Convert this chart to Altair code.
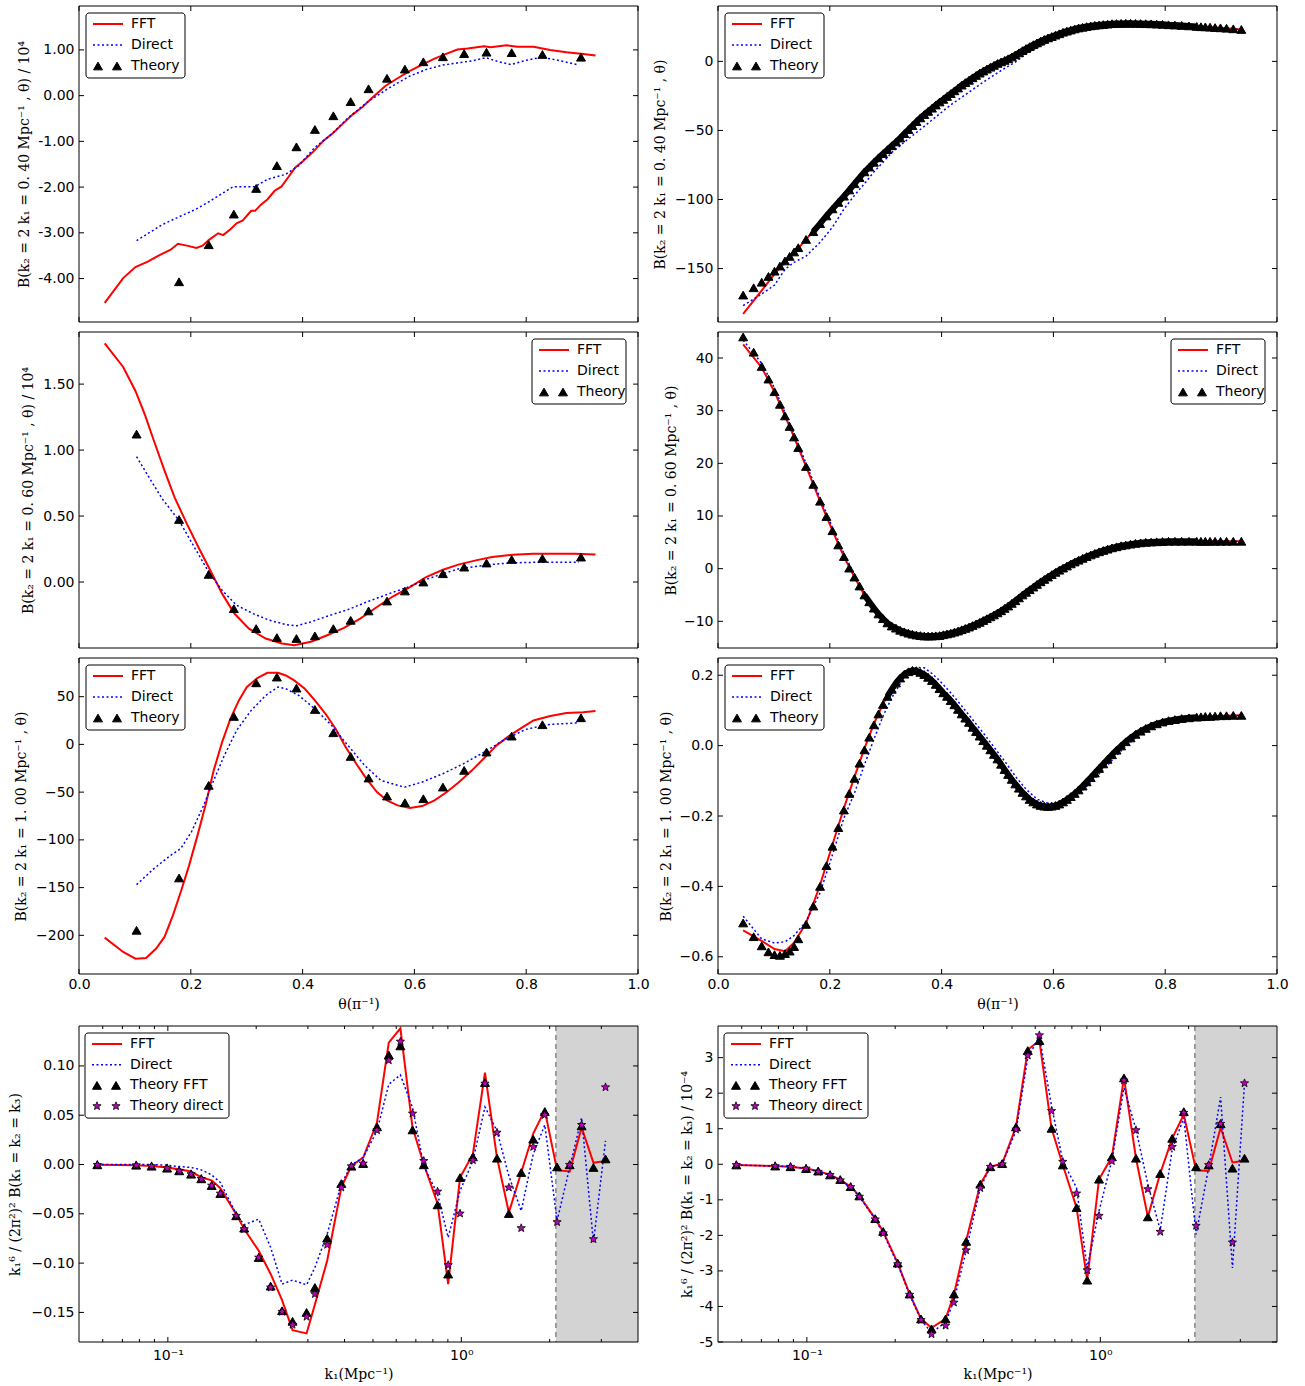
import math
import altair as alt
import pandas as pd

# ---------------- values ----------------
THETA_TICKS = [0.0, 0.2, 0.4, 0.6, 0.8, 1.0]
THEORY_X = [0.103, 0.179, 0.232, 0.277, 0.317, 0.354, 0.389, 0.422, 0.455, 0.486,
            0.518, 0.551, 0.583, 0.616, 0.651, 0.689, 0.729, 0.774, 0.829, 0.898]

P1_FFT_X = [0.046, 0.079, 0.101, 0.123, 0.145, 0.164, 0.177, 0.193, 0.210, 0.221,
            0.232, 0.249, 0.258, 0.271, 0.282, 0.293, 0.308, 0.315, 0.325, 0.337,
            0.350, 0.362, 0.374, 0.387, 0.401, 0.418, 0.437, 0.455, 0.474, 0.490,
            0.507, 0.525, 0.548, 0.570, 0.592, 0.614, 0.636, 0.658, 0.677, 0.695,
            0.725, 0.736, 0.765, 0.784, 0.813, 0.843, 0.872, 0.902, 0.924]
P1_FFT_Y = [-4.53, -3.99, -3.75, -3.63, -3.48, -3.37, -3.24, -3.28, -3.33, -3.28,
            -3.16, -3.01, -3.05, -2.92, -2.79, -2.73, -2.52, -2.52, -2.39, -2.27,
            -2.08, -1.99, -1.79, -1.57, -1.43, -1.24, -0.99, -0.81, -0.59, -0.41,
            -0.25, -0.04, 0.21, 0.38, 0.54, 0.68, 0.81, 0.92, 1.01, 1.03,
            1.08, 1.06, 1.10, 1.07, 1.07, 1.00, 0.95, 0.91, 0.88]
P1_DIR_X = [0.103, 0.149, 0.179, 0.208, 0.230, 0.256, 0.276, 0.315, 0.337, 0.370,
            0.393, 0.422, 0.452, 0.481, 0.518, 0.555, 0.592, 0.621, 0.651, 0.680,
            0.703, 0.728, 0.751, 0.773, 0.799, 0.828, 0.858, 0.891]
P1_DIR_Y = [-3.17, -2.82, -2.65, -2.49, -2.34, -2.14, -1.99, -1.99, -1.83, -1.72,
            -1.53, -1.13, -0.84, -0.49, -0.12, 0.17, 0.43, 0.57, 0.67, 0.72,
            0.76, 0.83, 0.74, 0.68, 0.77, 0.84, 0.77, 0.68]
P1_TH_X = THEORY_X[1:]
P1_TH_Y = [-4.07, -3.26, -2.59, -2.03, -1.53, -1.12, -0.74, -0.44, -0.13, 0.15,
           0.38, 0.58, 0.74, 0.85, 0.92, 0.95, 0.94, 0.90, 0.84]

P3_FFT_X = [0.046, 0.079, 0.101, 0.118, 0.134, 0.153, 0.171, 0.193, 0.215, 0.238,
            0.256, 0.278, 0.304, 0.334, 0.363, 0.385, 0.415, 0.444, 0.474, 0.503,
            0.533, 0.562, 0.592, 0.621, 0.651, 0.680, 0.710, 0.739, 0.776, 0.813,
            0.850, 0.887, 0.924]
P3_FFT_Y = [1.809, 1.630, 1.448, 1.267, 1.071, 0.844, 0.642, 0.441, 0.252, 0.063,
            -0.088, -0.239, -0.353, -0.428, -0.466, -0.479, -0.453, -0.403, -0.348, -0.277,
            -0.189, -0.108, -0.038, 0.038, 0.093, 0.134, 0.164, 0.189, 0.207, 0.214,
            0.214, 0.214, 0.209]
P3_DIR_X = [0.103, 0.127, 0.149, 0.179, 0.208, 0.232, 0.256, 0.282, 0.311, 0.341,
            0.370, 0.389, 0.415, 0.444, 0.481, 0.518, 0.555, 0.592, 0.621, 0.651,
            0.680, 0.710, 0.739, 0.776, 0.813, 0.850, 0.894]
P3_DIR_Y = [0.950, 0.781, 0.630, 0.466, 0.252, 0.076, -0.063, -0.176, -0.239, -0.290,
            -0.322, -0.332, -0.302, -0.259, -0.209, -0.146, -0.088, -0.033, 0.020, 0.063,
            0.101, 0.118, 0.134, 0.146, 0.149, 0.149, 0.149]
P3_TH_Y = [1.121, 0.474, 0.058, -0.202, -0.353, -0.421, -0.428, -0.408, -0.353, -0.290,
           -0.219, -0.144, -0.068, 0.000, 0.063, 0.113, 0.144, 0.171, 0.179, 0.189]

P5_FFT_X = [0.046, 0.079, 0.101, 0.120, 0.138, 0.153, 0.168, 0.182, 0.197, 0.212,
            0.227, 0.241, 0.256, 0.271, 0.286, 0.300, 0.319, 0.337, 0.356, 0.370,
            0.385, 0.404, 0.422, 0.441, 0.459, 0.477, 0.496, 0.514, 0.533, 0.551,
            0.570, 0.592, 0.614, 0.636, 0.658, 0.680, 0.703, 0.725, 0.747, 0.769,
            0.791, 0.813, 0.843, 0.872, 0.902, 0.924]
P5_FFT_Y = [-202.4, -217.4, -224.4, -223.7, -213.9, -201.7, -179.0, -154.6, -126.7, -95.3,
            -62.1, -27.2, 2.4, 26.9, 46.1, 60.0, 69.4, 75.0, 75.0, 72.2,
            67.0, 58.3, 46.1, 32.1, 16.4, -2.8, -20.2, -35.9, -49.9, -58.6,
            -63.9, -66.6, -64.6, -58.6, -49.9, -39.4, -27.2, -14.3, -1.0, 8.7,
            17.1, 25.1, 29.7, 32.8, 33.8, 34.9]
P5_DIR_X = [0.103, 0.134, 0.164, 0.182, 0.201, 0.223, 0.241, 0.260, 0.282, 0.308,
            0.334, 0.356, 0.370, 0.393, 0.422, 0.452, 0.481, 0.511, 0.540, 0.570,
            0.583, 0.614, 0.651, 0.688, 0.725, 0.762, 0.799, 0.836, 0.894]
P5_DIR_Y = [-146.9, -130.1, -116.2, -109.2, -91.8, -63.9, -37.7, -11.5, 14.7, 35.6,
            51.3, 60.0, 58.3, 51.3, 37.3, 19.9, -1.0, -22.0, -37.7, -42.9,
            -44.7, -39.4, -30.7, -20.2, -8.0, 5.2, 15.7, 20.6, 22.7]
P5_TH_Y = [-194.7, -139.9, -42.9, 29.3, 64.5, 70.5, 59.0, 36.6, 12.2, -12.6,
           -35.2, -54.1, -61.1, -56.9, -44.7, -27.2, -8.0, 8.7, 20.6, 27.9]

DENSE_X = [0.0450, 0.0638, 0.0782, 0.0903, 0.1011, 0.1108, 0.1198, 0.1282, 0.1361, 0.1436,
           0.1575, 0.1705, 0.1826, 0.1940, 0.2048, 0.2152, 0.2252, 0.2348, 0.2441, 0.2532,
           0.2620, 0.2706, 0.2789, 0.2871, 0.2952, 0.3031, 0.3108, 0.3184, 0.3259, 0.3333,
           0.3406, 0.3478, 0.3550, 0.3620, 0.3690, 0.3759, 0.3828, 0.3896, 0.3963, 0.4030,
           0.4097, 0.4163, 0.4229, 0.4294, 0.4359, 0.4424, 0.4489, 0.4553, 0.4617, 0.4681,
           0.4745, 0.4809, 0.4873, 0.4936, 0.5000, 0.5064, 0.5127, 0.5191, 0.5255, 0.5319,
           0.5383, 0.5447, 0.5511, 0.5576, 0.5641, 0.5706, 0.5771, 0.5837, 0.5903, 0.5970,
           0.6037, 0.6104, 0.6172, 0.6241, 0.6310, 0.6380, 0.6450, 0.6522, 0.6594, 0.6667,
           0.6741, 0.6816, 0.6892, 0.6969, 0.7048, 0.7129, 0.7211, 0.7294, 0.7380, 0.7468,
           0.7559, 0.7652, 0.7748, 0.7848, 0.7952, 0.8060, 0.8174, 0.8295, 0.8425, 0.8564,
           0.8639, 0.8718, 0.8802, 0.8892, 0.8989, 0.9097, 0.9218, 0.9362]
P2_TH_Y = [-169.2, -163.9, -159.9, -155.7, -151.9, -148.2, -144.5, -141.2, -138.0, -134.9,
           -128.9, -123.3, -117.5, -111.9, -106.8, -102.1, -97.6, -93.1, -88.6, -84.2,
           -80.0, -76.5, -73.1, -69.8, -66.8, -63.9, -61.1, -58.3, -55.5, -52.3,
           -49.4, -46.5, -43.6, -40.9, -38.5, -36.2, -33.9, -31.6, -29.4, -27.5,
           -25.4, -23.3, -21.3, -19.3, -17.2, -15.4, -13.7, -11.9, -10.2, -8.5,
           -7.0, -5.6, -4.2, -2.9, -1.5, -0.4, 0.7, 1.9, 3.2, 4.7,
           6.2, 7.8, 9.3, 10.7, 12.1, 13.4, 14.7, 15.9, 17.0, 18.0,
           19.0, 20.0, 21.1, 21.9, 22.7, 23.5, 24.2, 24.7, 25.2, 25.7,
           26.1, 26.4, 26.7, 27.0, 27.3, 27.4, 27.5, 27.6, 27.6, 27.5,
           27.4, 27.3, 27.2, 27.0, 26.8, 26.5, 26.3, 26.0, 25.7, 25.3,
           25.1, 25.0, 24.8, 24.5, 24.3, 24.0, 23.6, 23.1]
P4_TH_Y = [44.0, 41.1, 38.4, 36.0, 33.6, 31.2, 29.0, 27.0, 25.0, 23.0,
           19.4, 16.0, 12.8, 9.9, 7.2, 4.5, 2.3, 0.1, -1.6, -3.3,
           -5.0, -6.3, -7.5, -8.6, -9.5, -10.3, -10.9, -11.3, -11.7, -12.0,
           -12.25, -12.45, -12.6, -12.7, -12.8, -12.8, -12.8, -12.75, -12.7, -12.55,
           -12.4, -12.25, -12.05, -11.85, -11.6, -11.35, -11.1, -10.8, -10.5, -10.2,
           -9.85, -9.5, -9.15, -8.8, -8.4, -8.0, -7.55, -7.1, -6.6, -6.1,
           -5.55, -5.0, -4.5, -4.0, -3.5, -3.0, -2.5, -2.05, -1.6, -1.15,
           -0.7, -0.3, 0.1, 0.5, 0.9, 1.25, 1.6, 1.95, 2.3, 2.6,
           2.9, 3.2, 3.45, 3.7, 3.95, 4.15, 4.35, 4.5, 4.65, 4.8,
           4.9, 5.0, 5.05, 5.1, 5.15, 5.2, 5.2, 5.2, 5.2, 5.2,
           5.2, 5.2, 5.2, 5.2, 5.2, 5.2, 5.2, 5.2]
P6_TH_Y = [-0.504, -0.543, -0.569, -0.586, -0.594, -0.596, -0.591, -0.584, -0.571, -0.549,
           -0.508, -0.456, -0.400, -0.341, -0.286, -0.233, -0.183, -0.136, -0.093, -0.050,
           -0.012, 0.024, 0.059, 0.090, 0.117, 0.140, 0.160, 0.178, 0.192, 0.203,
           0.210, 0.214, 0.213, 0.208, 0.202, 0.194, 0.185, 0.174, 0.162, 0.150,
           0.140, 0.128, 0.116, 0.103, 0.090, 0.078, 0.066, 0.052, 0.040, 0.027,
           0.014, 0.001, -0.012, -0.025, -0.038, -0.053, -0.068, -0.082, -0.096, -0.109,
           -0.121, -0.133, -0.143, -0.153, -0.160, -0.166, -0.170, -0.172, -0.173, -0.172,
           -0.170, -0.166, -0.160, -0.153, -0.145, -0.136, -0.126, -0.115, -0.103, -0.091,
           -0.078, -0.065, -0.052, -0.039, -0.026, -0.013, -0.001, 0.011, 0.022, 0.032,
           0.041, 0.049, 0.056, 0.062, 0.067, 0.071, 0.074, 0.077, 0.079, 0.081,
           0.082, 0.083, 0.083, 0.084, 0.085, 0.085, 0.086, 0.086]
# theta range where the dense theory markers merge into one solid band
P2_BAND = [0.16, 0.86]
P4_BAND = [0.26, 0.86]
P6_BAND = [0.30, 0.86]

LINE_X = [0.045, 0.078, 0.101, 0.120, 0.136, 0.1575, 0.1826, 0.2048, 0.2252, 0.2441,
          0.2620, 0.2789, 0.2952, 0.3108, 0.3259, 0.3406, 0.3550, 0.3690, 0.3828, 0.3963,
          0.4163, 0.4359, 0.4553, 0.4745, 0.4936, 0.5127, 0.5319, 0.5511, 0.5706, 0.5903,
          0.6104, 0.6310, 0.6522, 0.6741, 0.6969, 0.7211, 0.7468, 0.7748, 0.8060, 0.8425,
          0.8892, 0.9362]
P2_FFT_Y = [-182.8, -166.0, -154.0, -145.5, -139.0, -128.9, -117.4, -106.8, -97.6, -88.6,
            -80.0, -73.1, -66.8, -61.1, -55.5, -49.4, -43.6, -38.5, -33.9, -29.4,
            -23.3, -17.1, -11.9, -7.0, -2.9, 0.7, 4.7, 9.3, 13.4, 17.0,
            20.0, 22.7, 24.7, 26.1, 27.0, 27.5, 27.5, 27.2, 26.5, 25.7,
            24.5, 23.1]
P2_DIR_Y = [-176.8, -168.5, -162.0, -150.5, -145.5, -141.0, -131.0, -120.0, -107.0, -97.0,
            -88.5, -80.0, -73.0, -66.0, -61.0, -56.0, -51.5, -47.0, -42.5, -38.0,
            -31.5, -26.0, -20.5, -15.0, -10.0, -5.0, -0.5, 5.5, 10.0, 14.0,
            17.5, 20.5, 22.8, 24.7, 26.0, 27.0, 27.4, 27.1, 26.4, 25.4,
            24.2, 23.0]
P4_FFT_Y = [42.6, 38.2, 33.6, 29.0, 25.0, 19.4, 12.8, 7.2, 2.3, -1.6,
            -5.0, -7.5, -9.5, -10.9, -11.7, -12.25, -12.6, -12.8, -12.8, -12.7,
            -12.25, -11.6, -10.8, -9.85, -8.8, -7.55, -6.1, -4.5, -3.0, -1.6,
            -0.3, 0.9, 1.95, 2.9, 3.7, 4.35, 4.8, 5.05, 5.2, 5.2,
            5.2, 5.2]
P4_DIR_Y = [43.4, 39.0, 34.3, 29.6, 25.6, 20.0, 13.4, 7.8, 2.9, -1.1,
            -4.6, -7.2, -9.3, -10.7, -11.6, -12.2, -12.6, -12.8, -12.85, -12.75,
            -12.3, -11.7, -10.9, -9.9, -8.8, -7.5, -6.0, -4.4, -2.9, -1.5,
            -0.2, 1.0, 2.0, 2.95, 3.75, 4.4, 4.85, 5.1, 5.2, 5.2,
            5.2, 5.2]
P6_FFT_Y = [-0.525, -0.555, -0.578, -0.584, -0.560, -0.505, -0.396, -0.281, -0.178, -0.089,
            -0.008, 0.062, 0.119, 0.161, 0.192, 0.210, 0.213, 0.202, 0.185, 0.162,
            0.128, 0.090, 0.052, 0.014, -0.025, -0.068, -0.109, -0.143, -0.166, -0.173,
            -0.166, -0.145, -0.115, -0.078, -0.039, -0.001, 0.032, 0.056, 0.071, 0.079,
            0.084, 0.086]
P6_DIR_Y = [-0.485, -0.549, -0.561, -0.557, -0.540, -0.500, -0.418, -0.310, -0.206, -0.135,
            -0.054, 0.018, 0.084, 0.136, 0.176, 0.206, 0.222, 0.221, 0.205, 0.185,
            0.150, 0.113, 0.074, 0.036, -0.004, -0.044, -0.087, -0.124, -0.152, -0.164,
            -0.165, -0.152, -0.127, -0.093, -0.055, -0.015, 0.022, 0.050, 0.068, 0.078,
            0.083, 0.086]

K1 = [0.0575, 0.078, 0.088, 0.0994, 0.1093, 0.120, 0.130, 0.141, 0.151, 0.171,
      0.182, 0.204, 0.224, 0.245, 0.266, 0.297, 0.317, 0.349, 0.390, 0.422,
      0.463, 0.516, 0.566, 0.620, 0.682, 0.745, 0.830, 0.902, 0.990, 1.095,
      1.204, 1.323, 1.452, 1.600, 1.758, 1.925, 2.12, 2.34, 2.57, 2.82,
      3.10]
P7_FFT_Y = [-0.0003, -0.0007, -0.0014, -0.003, -0.0047, -0.0071, -0.013, -0.016, -0.024, -0.0503,
            -0.0655, -0.0875, -0.111, -0.1375, -0.168, -0.1713, -0.142, -0.0976, -0.0233, -0.0014,
            0.0071, 0.0426, 0.1236, 0.1382, 0.0375, 0.0003, -0.0395, -0.1213, -0.0132, 0.0105,
            0.0932, 0.0071, -0.0486, -0.0081, 0.0314, 0.0551, -0.0057, -0.0071, 0.0375, 0.0017,
            0.0037]
P7_DIR_Y = [0.0, 0.0, 0.0, -0.0007, -0.002, -0.003, -0.0054, -0.0105, -0.0182, -0.0503,
            -0.0611, -0.0554, -0.0841, -0.1213, -0.1172, -0.122, -0.1044, -0.0706, -0.0199, -0.0003,
            0.0071, 0.0341, 0.0814, 0.0909, 0.0578, -0.0014, -0.0301, -0.074, -0.0267, 0.0037,
            0.0584, 0.0341, -0.0115, -0.047, 0.0105, 0.0402, -0.0571, -0.003, 0.0476, -0.0791,
            0.024]
P7_TFFT_Y = [-0.0003, -0.0007, -0.0017, -0.0037, -0.0064, -0.0098, -0.0145, -0.0213, -0.0294, -0.052,
             -0.0645, -0.0943, -0.1233, -0.1483, -0.159, -0.150, -0.1247, -0.0747, -0.0193, -0.0017,
             0.001, 0.0382, 0.1111, 0.1203, 0.0351, -0.0003, -0.0409, -0.1111, -0.0132, 0.0078,
             0.0831, 0.0064, -0.0497, -0.0081, 0.0257, 0.0537, -0.0024, -0.0003, 0.0392, -0.003,
             0.0057]
P7_TDIR_Y = [-0.0003, -0.0007, -0.0017, -0.0037, -0.0064, -0.0098, -0.0145, -0.0213, -0.0294, -0.052,
             -0.0655, -0.0943, -0.1247, -0.1493, -0.1625, -0.1544, -0.1314, -0.0814, -0.0233, -0.0017,
             0.001, 0.0348, 0.1057, 0.1247, 0.0517, 0.0037, -0.0274, -0.102, -0.0497, 0.0044,
             0.0821, 0.0324, -0.0233, -0.0645, 0.0179, 0.0503, -0.0584, -0.0003, 0.0402, -0.0757,
             0.0784]
P8_FFT_Y = [-0.02, -0.05, -0.07, -0.12, -0.19, -0.30, -0.43, -0.63, -0.89, -1.53,
            -1.89, -2.78, -3.65, -4.35, -4.60, -4.35, -3.67, -2.15, -0.56, -0.07,
            0.02, 1.05, 3.22, 3.48, 1.01, -0.02, -1.22, -3.26, -0.42, 0.21,
            2.43, 0.17, -1.48, -0.26, 0.73, 1.40, -0.17, -0.19, 1.03, 0.05,
            0.10]
P8_DIR_Y = [-0.02, -0.05, -0.07, -0.12, -0.21, -0.30, -0.45, -0.64, -0.91, -1.55,
            -1.94, -2.81, -3.67, -4.38, -4.73, -4.45, -3.84, -2.43, -0.66, -0.07,
            0.0, 0.94, 3.0, 3.6, 1.64, 0.09, -0.66, -2.92, -1.31, 0.11,
            2.15, 0.98, -0.56, -1.85, 0.42, 1.31, -1.97, -0.09, 1.89, -2.92,
            2.29]
P8_TFFT_Y = [-0.02, -0.05, -0.07, -0.12, -0.19, -0.30, -0.43, -0.63, -0.89, -1.53,
             -1.89, -2.78, -3.65, -4.35, -4.63, -4.35, -3.65, -2.17, -0.56, -0.07,
             0.02, 1.05, 3.20, 3.48, 1.01, -0.02, -1.22, -3.26, -0.42, 0.21,
             2.43, 0.17, -1.48, -0.26, 0.73, 1.48, -0.07, -0.02, 1.14, -0.11,
             0.17]
P8_TDIR_Y = [-0.02, -0.05, -0.07, -0.12, -0.21, -0.30, -0.45, -0.64, -0.91, -1.55,
             -1.94, -2.81, -3.67, -4.38, -4.78, -4.54, -3.89, -2.42, -0.67, -0.07,
             0.0, 0.98, 3.06, 3.63, 1.50, 0.07, -0.82, -2.98, -1.45, 0.09,
             2.36, 0.96, -0.70, -1.90, 0.49, 1.45, -1.73, -0.02, 1.14, -2.20,
             2.28]
K_DOMAIN = [0.0498, 4.0]
K_SHADE = [2.1, 4.0]
K_MAJOR = [0.1, 1.0]
K_MINOR = [0.06, 0.07, 0.08, 0.09, 0.2, 0.3, 0.4, 0.5, 0.6, 0.7, 0.8, 0.9, 2.0, 3.0]

TOP_ENTRIES = [("FFT", "fft"), ("Direct", "direct"), ("Theory", "tri")]
BOT_ENTRIES = [("FFT", "fft"), ("Direct", "direct"), ("Theory FFT", "tri"), ("Theory direct", "star")]

# ---------------- styling ----------------
W, H = 559, 316
SANS = "DejaVu Sans"
SERIF = "DejaVu Serif"
RED = "#ff0000"
BLUE = "#0000ff"
MAGENTA = "#bf00bf"
SHADE = "#d3d3d3"
DIRECT_DASH = [2, 2.5]
TRI_SIZE = 80
STAR_SIZE = 75
BAND_WIDTH = 6
TITLE_SIZE = 14
ONE = pd.DataFrame({"o": [0]})


def star_shape():
    pts = []
    for i in range(10):
        a = math.radians(-90 + 36 * i)
        rad = 1.0 if i % 2 == 0 else 0.42
        pts.append(f"{rad * math.cos(a):.4f},{rad * math.sin(a):.4f}")
    return "M" + "L".join(pts) + "Z"


STAR = star_shape()


def y_axis(title, values, tx, fmt, expr=None):
    kw = dict(title=title, values=values, format=fmt, titleX=tx, titleY=H / 2,
              titleAngle=-90, titleBaseline="middle", titleAlign="center",
              titleFont=SERIF, titleFontSize=TITLE_SIZE, titleFontWeight="normal",
              titleColor="black",
              labelFont=SANS, labelFontSize=14, labelColor="black", labelPadding=5,
              ticks=False, tickSize=0, domain=False, grid=False, labelOverlap=False)
    if expr:
        kw["labelExpr"] = expr
    return alt.Axis(**kw)


def x_axis(title, values, fmt=None, expr=None, pad=3, ty=30):
    kw = dict(title=title, values=values, titleY=ty, titleBaseline="middle",
              titleFont=SERIF, titleFontSize=TITLE_SIZE, titleFontWeight="normal",
              titleColor="black",
              labelFont=SANS, labelFontSize=14, labelColor="black", labelPadding=pad,
              labelFlush=False, ticks=False, tickSize=0, domain=False, grid=False,
              labelOverlap=False)
    if fmt:
        kw["format"] = fmt
    if expr:
        kw["labelExpr"] = expr
    return alt.Axis(**kw)


def marker_mark(kind):
    if kind == "tri":
        return dict(shape="triangle-up", size=TRI_SIZE, filled=True, fill="black",
                    stroke="black", strokeWidth=1, opacity=1)
    return dict(shape=STAR, size=STAR_SIZE, filled=True, fill=MAGENTA,
                stroke="black", strokeWidth=0.8, opacity=1)


def legend_layers(entries, bx, by, bw, rowh):
    base = alt.Chart(ONE)
    bh = 11 + rowh * (len(entries) - 1) + 12
    L = [base.mark_rect(fill="white", stroke="black", strokeWidth=1, cornerRadius=3).encode(
        x=alt.value(bx), x2=alt.value(bx + bw), y=alt.value(by), y2=alt.value(by + bh))]
    for i, (label, kind) in enumerate(entries):
        yc = by + 11 + rowh * i
        x0 = bx + 7
        if kind == "fft":
            L.append(base.mark_rule(color=RED, strokeWidth=2).encode(
                x=alt.value(x0), x2=alt.value(x0 + 30), y=alt.value(yc)))
        elif kind == "direct":
            L.append(base.mark_rule(color=BLUE, strokeWidth=1.5, strokeDash=DIRECT_DASH).encode(
                x=alt.value(x0), x2=alt.value(x0 + 30), y=alt.value(yc)))
        else:
            for cx in (x0 + 5, x0 + 24):
                L.append(base.mark_point(**marker_mark(kind)).encode(
                    x=alt.value(cx), y=alt.value(yc)))
        L.append(base.mark_text(align="left", baseline="middle", font=SANS, fontSize=14,
                                color="black").encode(
            x=alt.value(bx + 45), y=alt.value(yc), text=alt.value(label)))
    return L


def panel(xs, ys, xa, ya, lines, markers, xticks, yticks, legend, xminor=None, shade=None,
          band=None):
    L = []
    if shade is not None:
        sd = pd.DataFrame({"k0": [shade[0]], "k1": [shade[1]]})
        L.append(alt.Chart(sd).mark_rect(color=SHADE).encode(
            x=alt.X("k0:Q", scale=xs, axis=xa), x2=alt.X2("k1"), y=alt.value(0), y2=alt.value(H)))
        L.append(alt.Chart(sd).mark_rule(color="#555555", strokeDash=[5, 4], strokeWidth=1).encode(
            x=alt.X("k0:Q", scale=xs, axis=xa), y=alt.value(0), y2=alt.value(H)))
    for xv, yv, color, width, dash in lines:
        kw = dict(color=color, strokeWidth=width, clip=True)
        if dash:
            kw["strokeDash"] = dash
        L.append(alt.Chart(pd.DataFrame({"x": xv, "y": yv})).mark_line(**kw).encode(
            x=alt.X("x:Q", scale=xs, axis=xa), y=alt.Y("y:Q", scale=ys, axis=ya)))
    for xv, yv, kind in markers:
        df = pd.DataFrame({"x": xv, "y": yv})
        if band is not None:
            # overlapping dense markers: their merged outline drawn as a thick stroke
            L.append(alt.Chart(df).transform_filter(
                f"datum.x >= {band[0]} && datum.x <= {band[1]}").mark_line(
                color="black", strokeWidth=BAND_WIDTH, clip=True, strokeJoin="round").encode(
                x=alt.X("x:Q", scale=xs, axis=xa), y=alt.Y("y:Q", scale=ys, axis=ya)))
        L.append(alt.Chart(df).mark_point(clip=True, **marker_mark(kind)).encode(
            x=alt.X("x:Q", scale=xs, axis=xa), y=alt.Y("y:Q", scale=ys, axis=ya)))
    yd = pd.DataFrame({"t": yticks})
    for a, b in ((0, 5), (W - 5, W)):
        L.append(alt.Chart(yd).mark_rule(color="black", strokeWidth=1).encode(
            y=alt.Y("t:Q", scale=ys, axis=ya), x=alt.value(a), x2=alt.value(b)))
    for vals, ln in ((xticks, 5), (xminor, 3)):
        if not vals:
            continue
        xd = pd.DataFrame({"t": vals})
        for a, b in ((H - ln, H), (0, ln)):
            L.append(alt.Chart(xd).mark_rule(color="black", strokeWidth=1).encode(
                x=alt.X("t:Q", scale=xs, axis=xa), y=alt.value(a), y2=alt.value(b)))
    L.append(alt.Chart(ONE).mark_rect(fill="transparent", stroke="black", strokeWidth=1).encode(
        x=alt.value(0), x2=alt.value(W), y=alt.value(0), y2=alt.value(H)))
    L += legend
    return alt.layer(*L).properties(width=W, height=H)


def ys(lo, hi):
    return alt.Scale(domain=[lo, hi], nice=False, zero=False)


XS_T = alt.Scale(domain=[0, 1], nice=False, zero=False)
XS_K = alt.Scale(type="log", domain=K_DOMAIN, nice=False)
HY = "replace(datum.label, '\u2212', '-')"

T_B = "B(k\u2082 = 2 k\u2081 = {} Mpc\u207b\u00b9 , \u03b8)"
X_THETA = x_axis("\u03b8(\u03c0\u207b\u00b9)", THETA_TICKS, fmt=".1f", pad=3, ty=30)
X_K = x_axis("k\u2081(Mpc\u207b\u00b9)", K_MAJOR,
             expr="datum.value < 0.5 ? '10\u207b\u00b9' : '10\u2070'", pad=6, ty=32)

LEG_TL = legend_layers(TOP_ENTRIES, 7, 7, 99, 21)
LEG_TR = legend_layers(TOP_ENTRIES, W - 106, 7, 94, 21)
LEG_BOT = legend_layers(BOT_ENTRIES, 6, 7, 144, 20.7)


def top_panel(xa, ya, yscale, fft, direct, theory, yticks, legend, band=None):
    return panel(XS_T, yscale, xa, ya,
                 lines=[(fft[0], fft[1], RED, 2, None), (direct[0], direct[1], BLUE, 1.5, DIRECT_DASH)],
                 markers=[(theory[0], theory[1], "tri")],
                 xticks=THETA_TICKS, yticks=yticks, legend=legend, band=band)


p1 = top_panel(None, y_axis(T_B.format("0. 40") + " / 10\u2074", [-4, -3, -2, -1, 0, 1], -55, ".2f", HY),
               ys(-4.95, 1.96), (P1_FFT_X, P1_FFT_Y), (P1_DIR_X, P1_DIR_Y), (P1_TH_X, P1_TH_Y),
               [-4, -3, -2, -1, 0, 1], LEG_TL)
p2 = top_panel(None, y_axis(T_B.format("0. 40"), [-150, -100, -50, 0], -58, "d"),
               ys(-188.7, 40.1), (LINE_X, P2_FFT_Y), (LINE_X, P2_DIR_Y), (DENSE_X, P2_TH_Y),
               [-150, -100, -50, 0], LEG_TL, P2_BAND)
p3 = top_panel(None, y_axis(T_B.format("0. 60") + " / 10\u2074", [0, 0.5, 1.0, 1.5], -51, ".2f"),
               ys(-0.5, 1.895), (P3_FFT_X, P3_FFT_Y), (P3_DIR_X, P3_DIR_Y), (THEORY_X, P3_TH_Y),
               [0, 0.5, 1.0, 1.5], LEG_TR)
p4 = top_panel(None, y_axis(T_B.format("0. 60"), [-10, 0, 10, 20, 30, 40], -47, "d"),
               ys(-15.07, 44.94), (LINE_X, P4_FFT_Y), (LINE_X, P4_DIR_Y), (DENSE_X, P4_TH_Y),
               [-10, 0, 10, 20, 30, 40], LEG_TR, P4_BAND)
p5 = top_panel(X_THETA, y_axis(T_B.format("1. 00"), [-200, -150, -100, -50, 0, 50], -58, "d"),
               ys(-240.5, 90.5), (P5_FFT_X, P5_FFT_Y), (P5_DIR_X, P5_DIR_Y), (THEORY_X, P5_TH_Y),
               [-200, -150, -100, -50, 0, 50], LEG_TL)
p6 = top_panel(X_THETA, y_axis(T_B.format("1. 00"), [-0.6, -0.4, -0.2, 0.0, 0.2], -52, ".1f"),
               ys(-0.649, 0.249), (LINE_X, P6_FFT_Y), (LINE_X, P6_DIR_Y), (DENSE_X, P6_TH_Y),
               [-0.6, -0.4, -0.2, 0.0, 0.2], LEG_TL, P6_BAND)


def bottom_panel(ya, yscale, fft, direct, tfft, tdir, yticks):
    return panel(XS_K, yscale, X_K, ya,
                 lines=[(K1, fft, RED, 2, None), (K1, direct, BLUE, 1.5, DIRECT_DASH)],
                 markers=[(K1, tfft, "tri"), (K1, tdir, "star")],
                 xticks=K_MAJOR, yticks=yticks, xminor=K_MINOR, shade=K_SHADE, legend=LEG_BOT)


T_EQ = "k\u2081\u2076 / (2\u03c0\u00b2)\u00b2 B(k\u2081 = k\u2082 = k\u2083)"
p7 = bottom_panel(y_axis(T_EQ, [-0.15, -0.1, -0.05, 0.0, 0.05, 0.1], -64, ".2f"),
                  ys(-0.18, 0.1405), P7_FFT_Y, P7_DIR_Y, P7_TFFT_Y, P7_TDIR_Y,
                  [-0.15, -0.1, -0.05, 0.0, 0.05, 0.1])
p8 = bottom_panel(y_axis(T_EQ + " / 10\u207b\u2074", [-5, -4, -3, -2, -1, 0, 1, 2, 3], -31, "d", HY),
                  ys(-5.0, 3.89), P8_FFT_Y, P8_DIR_Y, P8_TFFT_Y, P8_TDIR_Y,
                  [-5, -4, -3, -2, -1, 0, 1, 2, 3])


def spacer():
    return alt.Chart(ONE).mark_point(opacity=0).encode(
        x=alt.value(0), y=alt.value(0)).properties(width=W, height=32)


chart = alt.concat(p1, p2, p3, p4, p5, p6, spacer(), spacer(), p7, p8,
                   columns=2, spacing={"row": 10, "column": 80}, bounds="flush")
chart = chart.resolve_scale(x="independent", y="independent")
chart = chart.properties(padding={"left": 8, "top": 5, "right": 5, "bottom": 2}, background="white")
chart = chart.configure(font=SANS).configure_view(stroke="transparent", strokeWidth=0)

chart.save("out.html", embed_options={"renderer": "svg", "actions": False})
